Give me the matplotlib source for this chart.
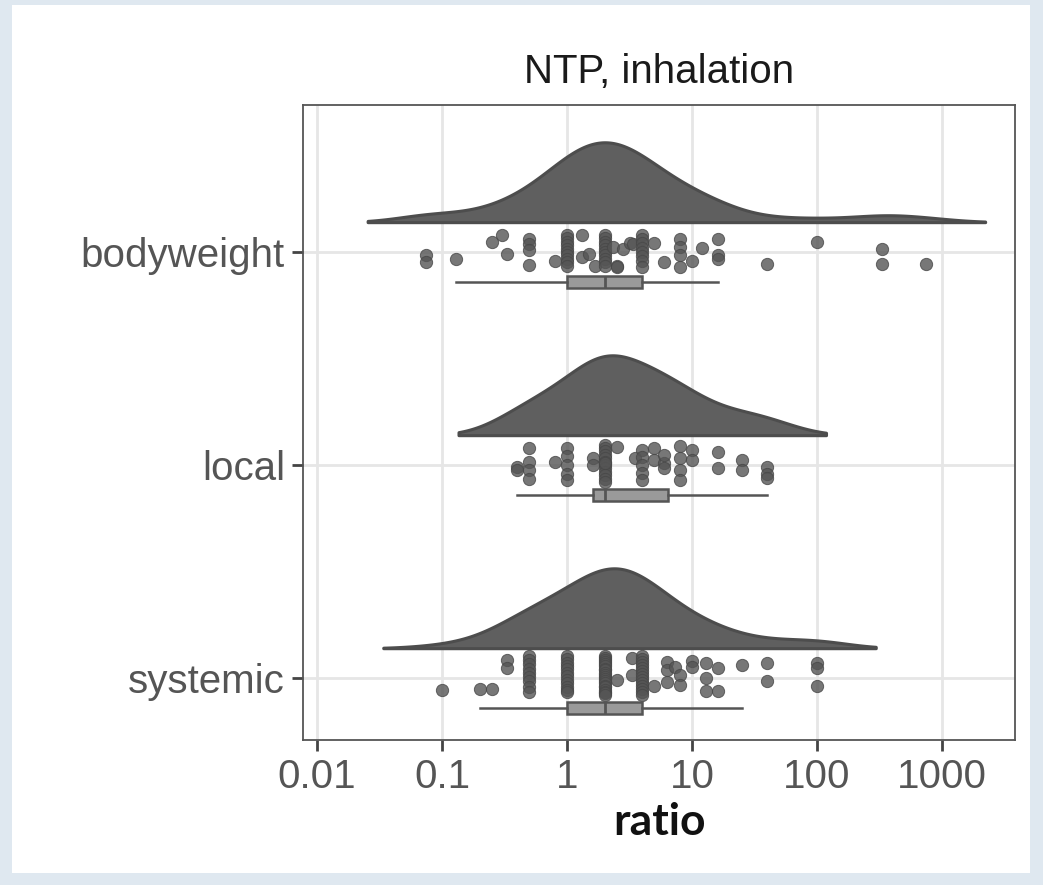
import numpy as np
import matplotlib.pyplot as plt
from matplotlib.patches import Rectangle

# categories, bottom to top on the y axis
categories = ["systemic", "local", "bodyweight"]

# ratio values
bodyweight = [0.075, 0.075, 0.13, 0.25, 0.3, 0.33, 0.5, 0.5, 0.5, 0.5, 0.8,
              1, 1, 1, 1, 1, 1, 1, 1, 1, 1, 1.33, 1.33, 1.5, 1.67,
              2, 2, 2, 2, 2, 2, 2, 2, 2, 2, 2.33, 2.5, 2.5, 2.8, 3.2, 3.4,
              4, 4, 4, 4, 4, 4, 4, 4, 5, 6, 8, 8, 8, 8, 10, 12, 16, 16, 16,
              40, 100, 330, 330, 750]
bodyweight_jit = [-0.2, -0.6, -0.4, 0.6, 1.0, -0.1, 0.75, 0.45, 0.1, -0.75, -0.5,
                  1, 0.8, 0.6, 0.4, 0.2, 0, -0.2, -0.4, -0.6, -0.8, 1.0, -0.3, -0.1, -0.8,
                  1, 0.8, 0.6, 0.4, 0.2, 0, -0.2, -0.4, -0.6, -0.8, 0.3, -0.8, -0.9, 0.2, 0.5, 0.45,
                  1, 0.75, 0.5, 0.25, 0, -0.25, -0.5, -0.9, 0.55, -0.6, 0.75, 0.3, -0.2, -0.9, -0.5, 0.25, 0.75, -0.2, -0.4,
                  -0.7, 0.6, 0.2, -0.7, -0.7]

local = [0.4, 0.4, 0.5, 0.5, 0.5, 0.5, 0.8, 1, 1, 1, 1, 1, 1.6, 1.6,
         2, 2, 2, 2, 2, 2, 2, 2, 2, 2, 2, 2, 2, 2.5, 3.5, 4, 4, 4, 4, 4,
         5, 5, 6, 6, 6, 8, 8, 8, 8, 10, 10, 16, 16, 25, 25, 40, 40, 40]
local_jit = [-0.1, -0.3, 1.0, 0.2, -0.3, -0.8, 0.2, 1, 0.5, 0, -0.5, -0.9, 0.4, 0,
             1.2, 1.0, 0.8, 0.6, 0.4, 0.2, 0, -0.2, -0.4, -0.6, -0.8, -1.0, 0.1, 1.05, 0.4,
             0.9, 0.45, 0, -0.45, -0.9, 1.0, 0.3, 0.1, -0.2, 0.6, 1.1, 0.4, -0.3, -0.9,
             0.9, 0.3, 0.75, -0.2, 0.3, -0.3, -0.1, -0.5, -0.75]

systemic = [0.1, 0.2, 0.25, 0.33, 0.33, 0.5, 0.5, 0.5, 0.5, 0.5, 0.5, 0.5, 0.5, 0.5,
            1, 1, 1, 1, 1, 1, 1, 1, 1, 1, 1, 1,
            2, 2, 2, 2, 2, 2, 2, 2, 2, 2, 2, 2, 2, 2, 2, 2, 2, 2, 2, 2,
            2.5, 3.3, 3.3, 4, 4, 4, 4, 4, 4, 4, 4, 4, 4, 4, 4, 4, 4,
            5, 6.3, 6.3, 6.3, 7.3, 8, 8, 10, 10, 13, 13, 13, 16, 16, 25, 40, 40,
            100, 100, 100]
systemic_jit = [-0.7, -0.65, -0.65, 1.05, 0.6, 1.3, 1.05, 0.8, 0.55, 0.3, 0.05, -0.2, -0.5, -0.8,
                1.3, 1.1, 0.9, 0.7, 0.5, 0.3, 0.1, -0.1, -0.3, -0.5, -0.7, -0.85,
                1.3, 1.2, 1.05, 0.95, 0.8, 0.7, 0.55, 0.45, 0.3, 0.2, 0.05, -0.05, -0.2, -0.3,
                -0.45, -0.55, -0.7, -0.8, -0.9, -1.0,
                -0.1, 1.2, 0.2, 1.3, 1.1, 0.95, 0.75, 0.6, 0.4, 0.25, 0.05, -0.1, -0.3, -0.45, -0.65, -0.8, -1.0,
                -0.45, 0.95, 0.45, -0.25, 0.65, 0.2, -0.4, 1.0, 0.65, 0.9, 0, -0.75, 0.6, -0.75, 0.75, 0.9, -0.2,
                0.9, 0.6, -0.45]

groups = {"systemic": (systemic, systemic_jit),
          "local": (local, local_jit),
          "bodyweight": (bodyweight, bodyweight_jit)}

xtick_vals = [0.01, 0.1, 1, 10, 100, 1000]
xtick_labels = ["0.01", "0.1", "1", "10", "100", "1000"]

bw = 0.27          # kde bandwidth in log10 units
ext = 0.47         # how far the cloud runs past the data
cloud_h = 0.375
cloud_off = 0.14
box_off = -0.14
box_w = 0.056
jit_h = 0.08

fig = plt.figure(figsize=(10.43, 8.85), dpi=100)
fig.patch.set_facecolor("#dfe8f0")
fig.patches.append(Rectangle((12 / 1043, 12 / 885), 1018 / 1043, 868 / 885,
                             transform=fig.transFigure, facecolor="white",
                             edgecolor="none", zorder=-10))

ax = fig.add_axes([303 / 1043, 1 - 740 / 885, 712 / 1043, 635 / 885])
ax.set_zorder(5)
ax.set_facecolor("white")

for i, cat in enumerate(categories):
    y0 = i + 1
    vals, jit = groups[cat]
    lx = np.log10(vals)

    # half violin (density above the dots)
    grid = np.linspace(lx.min() - ext, lx.max() + ext, 600)
    dens = np.exp(-0.5 * ((grid[:, None] - lx[None, :]) / bw) ** 2).sum(axis=1)
    dens = dens / dens.max() * cloud_h
    ax.fill_between(grid, y0 + cloud_off, y0 + cloud_off + dens,
                    facecolor="#5f5f5f", edgecolor="#4d4d4d", linewidth=2.2, zorder=3)

    # dots
    ax.scatter(lx, y0 + np.array(jit) * jit_h, s=78, color="#555555",
               alpha=0.8, edgecolors="#474747", linewidths=0.7, zorder=4)

    # boxplot
    ax.boxplot(lx, positions=[y0 + box_off], widths=box_w, orientation="horizontal",
               patch_artist=True, showfliers=False, showcaps=False, whis=1.5,
               manage_ticks=False,
               boxprops=dict(facecolor="#9a9a9a", edgecolor="#555555", linewidth=1.8),
               medianprops=dict(color="#555555", linewidth=2),
               whiskerprops=dict(color="#555555", linewidth=1.8), zorder=4)

ax.set_xlim(-2.112, 3.584)
ax.set_ylim(0.709, 3.69)
ax.set_xticks(np.log10(xtick_vals))
ax.set_xticklabels(xtick_labels)
ax.set_yticks([1, 2, 3])
ax.set_yticklabels(categories)

ax.grid(True, color="#e6e6e6", linewidth=2, zorder=0)
ax.set_axisbelow(True)
for s in ax.spines.values():
    s.set_color("#555555")
    s.set_linewidth(1.3)

ax.tick_params(axis="both", length=8, width=2, color="#444444",
               labelsize=29, labelcolor="#555555", pad=5)
for lab in ax.get_xticklabels() + ax.get_yticklabels():
    lab.set_family("Liberation Sans")

ax.set_title("NTP, inhalation", fontsize=29, family="Liberation Sans",
             color="#1a1a1a", pad=16)
ax.set_xlabel("ratio", fontsize=32, family="Lato", fontweight="bold",
              color="#111111", labelpad=4)

fig.savefig("out.png", dpi=100, facecolor=fig.get_facecolor())
